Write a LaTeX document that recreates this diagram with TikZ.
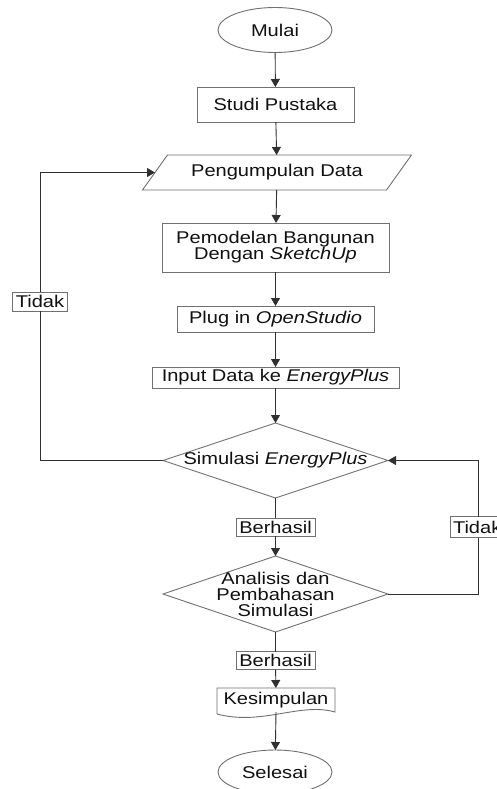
\documentclass[tikz,border=0pt]{standalone}
\usepackage{fontspec}
\setmainfont{Liberation Sans}[FakeStretch=1.18]
\usetikzlibrary{arrows.meta,shapes.geometric,calc}
\definecolor{boxgray}{HTML}{707070}
\definecolor{linegray}{HTML}{303030}
\definecolor{txt}{HTML}{111111}
\begin{document}
\begin{tikzpicture}[x=1pt,y=1pt,
  every node/.style={inner sep=0pt,outer sep=0pt,text=txt,font=\fontsize{17}{16}\selectfont,align=center},
  boxline/.style={draw=boxgray,line width=0.9pt},
  procbox/.style={boxline,rectangle,fill=white},
  termbox/.style={boxline,ellipse,fill=white},
  plainbox/.style={draw=none},
  labelbox/.style={boxline,rectangle,fill=white},
  conn/.style={draw=linegray,line width=0.9pt},
  arr/.style={conn,-{Triangle[length=8pt,width=9pt]}}
]
\useasboundingbox (0,0) rectangle (496,-789);
\fill[white] (0,0) rectangle (496,-789);

% nodes
\node[termbox,minimum width=114,minimum height=45] (mulai) at (275,-30) {Mulai};
\node[procbox,minimum width=157,minimum height=35] (studi) at (275.5,-104.5) {Studi Pustaka};
\node[plainbox,minimum width=244,minimum height=35] (data) at (277,-172.5) {Pengumpulan Data};
\node[procbox,minimum width=227,minimum height=49] (model) at (275.5,-247.5) {Pemodelan Bangunan\\Dengan \textit{SketchUp}};
\node[procbox,minimum width=197,minimum height=26] (plug) at (275.5,-319) {Plug in \textit{OpenStudio}};
\node[procbox,minimum width=247,minimum height=21] (input) at (275.5,-377.5) {Input Data ke \textit{EnergyPlus}};
\node[plainbox,minimum width=225,minimum height=75] (sim) at (275.5,-460.5) {};
\node[plainbox,minimum width=225,minimum height=76] (anal) at (275.5,-594) {};
\node[plainbox,minimum width=118,minimum height=24] (kes) at (276,-700) {};
\node[termbox,minimum width=114,minimum height=44] (selesai) at (275,-772) {Selesai};

% custom shapes
\draw[boxline] ($(data.south west)+(-12.5,0)$) -- ($(data.north west)+(12.5,0)$)
  -- ($(data.north east)+(12.5,0)$) -- ($(data.south east)+(-12.5,0)$) -- cycle;
\draw[boxline] (sim.north) -- (sim.east) -- (sim.south) -- (sim.west) -- cycle;
\draw[boxline] (anal.north) -- (anal.east) -- (anal.south) -- (anal.west) -- cycle;
\draw[boxline] ($(kes.south west)+(0,-2)$) -- (kes.north west) -- (kes.north east) -- (kes.south east)
  .. controls ($(kes.south east)+(-35,10)$) and ($(kes.south west)+(45,-14)$) .. ($(kes.south west)+(0,-2)$);

\node at (sim.center) {Simulasi \textit{EnergyPlus}};
\node at (anal.center) {Analisis dan\\Pembahasan\\Simulasi};
\node at (kes.center) {Kesimpulan};

% labels
\node[labelbox,minimum width=79,minimum height=18] (ber1) at (275.5,-527) {Berhasil};
\node[labelbox,minimum width=79,minimum height=18] (ber2) at (275.5,-660.5) {Berhasil};
\node[labelbox,minimum width=55,minimum height=19] (tidakL) at (40,-301.5) {Tidak};
\node[labelbox,minimum width=56,minimum height=21,text width=56,align=left] (tidakR) at (478,-527) {\hspace*{3pt}Tidak};

% connectors
\draw[arr] (mulai) -- (studi);
\draw[arr] (studi) -- (data);
\draw[arr] (data) -- (model);
\draw[arr] (model) -- (plug);
\draw[arr] (plug) -- (input);
\draw[arr] (input) -- (sim.north);
\draw[conn] (sim.south) -- (ber1);
\draw[arr] (ber1) -- (anal.north);
\draw[conn] (anal.south) -- (ber2);
\draw[arr] (ber2) -- (kes);
\draw[arr] (kes.south) -- (selesai);
\draw[conn] (sim.west) -| (tidakL.south);
\draw[arr] (tidakL.north) |- (data.west);
\draw[conn] (anal.east) -| (tidakR.south);
\draw[arr] (tidakR.north) |- (sim.east);
\end{tikzpicture}
\end{document}
